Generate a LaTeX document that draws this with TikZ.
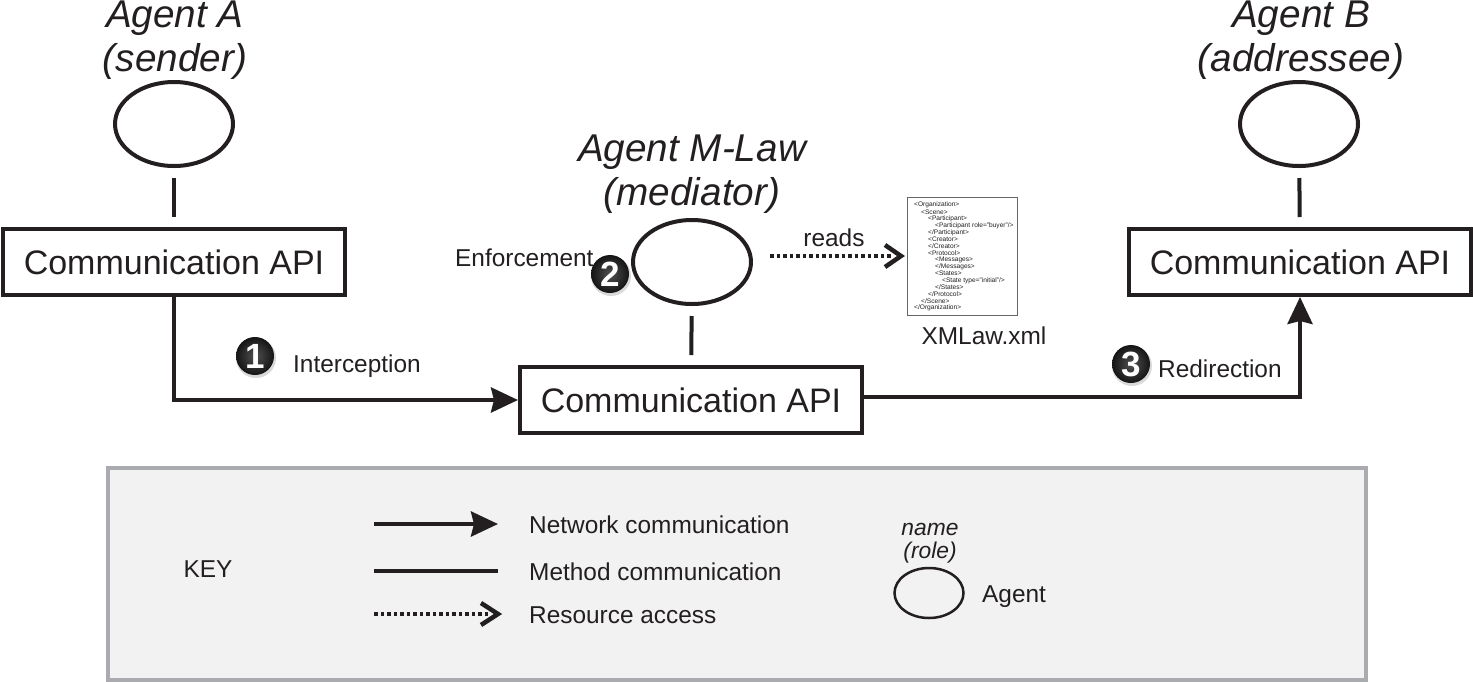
\documentclass[tikz,border=0pt]{standalone}
\usepackage{fontspec}
\setmainfont{Liberation Sans}
\usetikzlibrary{arrows.meta,shapes.geometric}
\tikzset{
    apibox/.style={draw=inkblack, line width=4pt, fill=white, text=inkblack, minimum width=342pt, minimum height=66pt, inner sep=0pt, font=\fontsize{34}{38}\selectfont},
    agent/.style={draw=inkblack, ellipse, line width=4pt, minimum width=118pt, minimum height=84pt, inner sep=0pt},
    rolelabel/.style={align=center, inner sep=0pt, text=inkblack, font=\fontsize{38.7}{44.5}\selectfont\itshape},
    smalllabel/.style={inner sep=0pt, text=inkblack, font=\fontsize{24.4}{28}\selectfont},
    netline/.style={draw=inkblack, line width=4pt, -{Stealth[length=27pt, width=25pt, inset=3pt]}},
    methodline/.style={draw=inkblack, line width=4pt},
    resourceline/.style={draw=inkblack, line width=4pt, dash pattern=on 3.5pt off 3pt},
    stepball/.style={circle, minimum size=38pt, inner sep=0pt, shading=radial, inner color=black!68, outer color=black!92, text=white, font=\fontsize{35}{35}\selectfont\bfseries},
    xmlline/.style={anchor=west, inner sep=0pt, text=inkblack, font=\fontsize{6.6}{7}\selectfont}
}
\definecolor{inkblack}{HTML}{231F20}
\definecolor{keygray}{HTML}{F2F2F2}
\definecolor{keyedge}{HTML}{A9ABAE}
\begin{document}
\begin{tikzpicture}[x=1pt, y=-1pt]
    \useasboundingbox (0, 0) rectangle (1473, 681);

    \node[agent] (agentA) at (174, 124) {};
    \node[agent] (agentM) at (692, 262) {};
    \node[agent] (agentB) at (1299, 124) {};

    \node[apibox] (apiA) at (174, 262) {Communication API};
    \node[apibox] (apiM) at (691, 400) {Communication API};
    \node[apibox] (apiB) at (1300, 262) {Communication API};

    \node[rolelabel] (nameA) at (175, 40) {Agent A\\(sender)};
    \node[rolelabel] (nameM) at (692, 174) {Agent M-Law\\(mediator)};
    \node[rolelabel] (nameB) at (1301, 40) {Agent B\\(addressee)};

    \draw[methodline, shorten <=10pt, shorten >=10pt] (agentA) -- (apiA);
    \draw[methodline, shorten <=10pt, shorten >=10pt] (agentM) -- (apiM);
    \draw[methodline, shorten <=10pt, shorten >=10pt] (agentB) -- (apiB);

    \draw[netline] (apiA.south) |- (apiM.west);
    \draw[netline] ([yshift=3pt]apiM.east) -| (apiB.south);

    \fill[black!15] (256, 358) circle (20);
    \fill[black!15] (611, 276) circle (20);
    \fill[black!15] (1132, 366) circle (20);
    \node[stepball] (stepA) at (255, 356) {1};
    \node[stepball] (stepM) at (610, 274) {2};
    \node[stepball] (stepB) at (1131, 364) {3};

    \node[smalllabel, anchor=west] (interception) at (293, 366) {Interception};
    \node[smalllabel, anchor=west] (enforcement) at (455, 258) {Enforcement};
    \node[smalllabel, anchor=west] (redirection) at (1158, 369) {Redirection};
    \node[smalllabel] (reads) at (834, 238) {reads};

    \node[draw=black!60, line width=1pt, fill=white, minimum width=110pt, minimum height=118pt, inner sep=0pt] (xmlDoc) at (962, 256) {};
    \foreach \i/\ind/\txt in {0/0/{<Organization>}, 1/1/{<Scene>}, 2/2/{<Participant>}, 3/3/{<Participant role="buyer"/>}, 4/2/{</Participant>}, 5/2/{<Creator>}, 6/2/{</Creator>}, 7/2/{<Protocol>}, 8/3/{<Messages>}, 9/3/{</Messages>}, 10/3/{<States>}, 11/4/{<State type="initial"/>}, 12/3/{</States>}, 13/2/{</Protocol>}, 14/1/{</Scene>}, 15/0/{</Organization>}} {
        \node[xmlline] at (914 + 7*\ind, 205 + 6.87*\i) {\txt};
    }
    \node[smalllabel] (xmlName) at (984, 336) {XMLaw.xml};

    \coordinate (readsFrom) at (770, 256);
    \coordinate (readsTo) at (901, 256);
    \draw[resourceline] (readsFrom) -- ([xshift=-8pt]readsTo);
    \draw[methodline, line width=4.5pt] ([xshift=-16pt, yshift=-11pt]readsTo) -- (readsTo) -- ([xshift=-16pt, yshift=11pt]readsTo);

    \node[draw=keyedge, line width=4pt, fill=keygray, minimum width=1258pt, minimum height=212pt, inner sep=0pt] (keyBox) at (737, 573.5) {};
    \node[smalllabel] (keyTitle) at (208, 569) {KEY};

    \coordinate (netFrom) at (374, 524);
    \coordinate (netTo) at (498, 524);
    \coordinate (methodFrom) at (374, 571);
    \coordinate (methodTo) at (498, 571);
    \coordinate (resFrom) at (374, 614);
    \coordinate (resTo) at (498, 614);
    \draw[netline] (netFrom) -- (netTo);
    \draw[methodline] (methodFrom) -- (methodTo);
    \draw[resourceline] (resFrom) -- ([xshift=-8pt]resTo);
    \draw[methodline, line width=4.5pt] ([xshift=-17pt, yshift=-11pt]resTo) -- (resTo) -- ([xshift=-17pt, yshift=11pt]resTo);

    \node[smalllabel, anchor=west] (netText) at (529, 525) {Network communication};
    \node[smalllabel, anchor=west] (methodText) at (529, 572) {Method communication};
    \node[smalllabel, anchor=west] (resText) at (529, 615) {Resource access};

    \node[smalllabel, align=center, font=\fontsize{22.8}{22.8}\selectfont\itshape] (keyRole) at (930, 543) {name\\(role)};
    \node[agent, line width=2.5pt, minimum width=69pt, minimum height=50pt] (keyAgent) at (929, 593) {};
    \node[smalllabel, anchor=west] (keyAgentText) at (982, 597) {Agent};

\end{tikzpicture}
\end{document}
